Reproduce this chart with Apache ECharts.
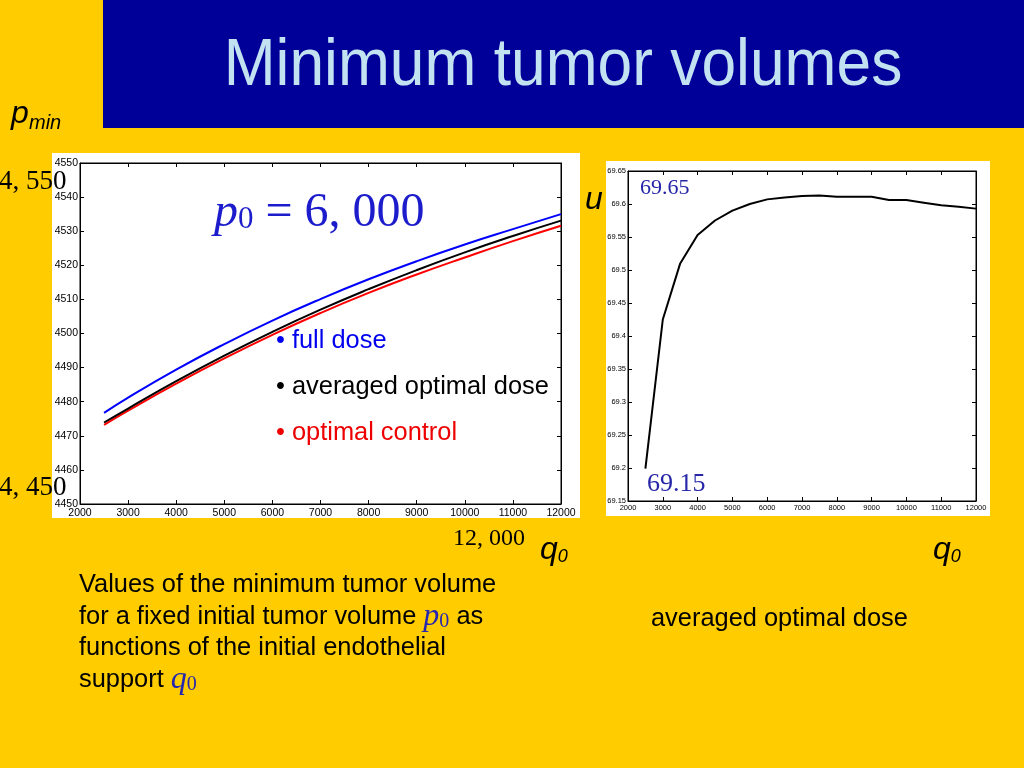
<!DOCTYPE html>
<html>
<head>
<meta charset="utf-8">
<script src="https://cdn.jsdelivr.net/npm/echarts@6/dist/echarts.min.js"></script>
<style>
html,body{margin:0;padding:0;background:#ffcc00;}
#c{width:1024px;height:768px;}
</style>
</head>
<body>
<div id="c"></div>
<script>
// Left chart: minimum tumor volume p_min vs q0 (p0 = 6,000)
const qLeft = [2500, 3000, 4000, 5000, 6000, 7000, 8000, 9000, 10000, 11000, 12000];
const fullDose = [4476.7, 4481.2, 4489.4, 4496.9, 4503.8, 4510.1, 4515.9, 4521.2, 4526.1, 4530.6, 4535.0];
const averagedDose = [4473.9, 4478.0, 4486.0, 4493.5, 4500.5, 4507.0, 4513.0, 4518.6, 4523.8, 4528.6, 4533.1];
const optimalControl = [4473.2, 4477.4, 4485.3, 4492.7, 4499.6, 4506.0, 4511.9, 4517.3, 4522.3, 4527.1, 4531.6];

// Right chart: averaged optimal dose u vs q0
const qRight = [2500, 3000, 3500, 4000, 4500, 5000, 5500, 6000, 6500, 7000, 7500, 8000, 8500, 9000, 9500, 10000, 10500, 11000, 11500, 12000];
const uValues = [69.199, 69.425, 69.51, 69.553, 69.575, 69.59, 69.6, 69.607, 69.61, 69.612, 69.613, 69.611, 69.611, 69.611, 69.606, 69.606, 69.602, 69.598, 69.596, 69.593];

const titleText = 'Minimum tumor volumes';
const legendLabels = ['• full dose', '• averaged optimal dose', '• optimal control'];
const descLines = ['Values of the minimum tumor volume', 'for a fixed initial tumor volume ', 'functions of the initial endothelial', 'support '];

const chart = echarts.init(document.getElementById('c'));
const sans = "'Liberation Sans', Arial, Helvetica, sans-serif";
const serif = "'Liberation Serif', 'DejaVu Serif', serif";

function pair(a, b) { return a.map((v, i) => [v, b[i]]); }
function plain(v) { return String(Math.round(v * 1000) / 1000); }

const gridL = {left: 80, top: 163, width: 481, height: 341};
const gridR = {left: 628, top: 171, width: 348, height: 330};

function xAx(gi, show, fs, margin) {
  return {type: 'value', gridIndex: gi, min: 2000, max: 12000, interval: 1000,
    position: show ? 'bottom' : 'top',
    axisLine: {show: true, lineStyle: {color: '#000', width: 1}},
    axisTick: {show: true, inside: true, length: 4, lineStyle: {color: '#000'}},
    axisLabel: {show: show, margin: margin, fontSize: fs, color: '#000', fontFamily: sans, formatter: plain},
    splitLine: {show: false}};
}
function yAx(gi, show, min, max, interval, fs) {
  return {type: 'value', gridIndex: gi, min: min, max: max, interval: interval,
    position: show ? 'left' : 'right',
    axisLine: {show: true, lineStyle: {color: '#000', width: 1}},
    axisTick: {show: true, inside: true, length: 4, lineStyle: {color: '#000'}},
    axisLabel: {show: show, margin: 2, fontSize: fs, color: '#000', fontFamily: sans, formatter: plain},
    splitLine: {show: false}};
}

const q0Rich = {
  a: {fontSize: 32, fontStyle: 'italic', fontFamily: sans, fill: '#000'},
  b: {fontSize: 18, fontStyle: 'italic', fontFamily: sans, fill: '#000', padding: [14,0,0,0]}};

const option = {
  backgroundColor: '#ffcc00',
  animation: false,
  grid: [
    {...gridL, show: true, borderColor: '#000', borderWidth: 1, backgroundColor: 'transparent'},
    {...gridR, show: true, borderColor: '#000', borderWidth: 1, backgroundColor: 'transparent'}
  ],
  xAxis: [xAx(0, true, 10.5, 4), xAx(0, false, 10.5, 4), xAx(1, true, 7.5, 3), xAx(1, false, 7.5, 3)],
  yAxis: [yAx(0, true, 4450, 4550, 10, 10.5), yAx(0, false, 4450, 4550, 10, 10.5),
          yAx(1, true, 69.15, 69.65, 0.05, 7.5), yAx(1, false, 69.15, 69.65, 0.05, 7.5)],
  series: [
    {type: 'line', xAxisIndex: 0, yAxisIndex: 0, data: pair(qLeft, fullDose), smooth: true, showSymbol: false, lineStyle: {color: '#0000ff', width: 2}},
    {type: 'line', xAxisIndex: 0, yAxisIndex: 0, data: pair(qLeft, optimalControl), smooth: true, showSymbol: false, lineStyle: {color: '#ff0000', width: 2}},
    {type: 'line', xAxisIndex: 0, yAxisIndex: 0, data: pair(qLeft, averagedDose), smooth: true, showSymbol: false, lineStyle: {color: '#000000', width: 2}},
    {type: 'line', xAxisIndex: 2, yAxisIndex: 2, data: pair(qRight, uValues), smooth: false, showSymbol: false, lineStyle: {color: '#000000', width: 2}}
  ],
  graphic: {elements: [
    {type: 'rect', z: -1, shape: {x: 52, y: 153, width: 528, height: 365}, style: {fill: '#ffffff'}},
    {type: 'rect', z: -1, shape: {x: 606, y: 161, width: 384, height: 355}, style: {fill: '#ffffff'}},
    {type: 'rect', z: -1, shape: {x: 103, y: 0, width: 921, height: 128}, style: {fill: '#000099'}},
    {type: 'text', x: 563, y: 67, scaleX: 0.93, originX: 0, originY: 0, style: {text: titleText, fill: '#c2e2f2', fontSize: 67, fontFamily: sans, align: 'center', verticalAlign: 'middle'}},
    // p_min
    {type: 'text', x: 11, y: 114, style: {text: 'p', fill: '#000', fontSize: 32, fontStyle: 'italic', fontFamily: sans, verticalAlign: 'middle'}},
    {type: 'text', x: 29, y: 123, style: {text: 'min', fill: '#000', fontSize: 20, fontStyle: 'italic', fontFamily: sans, verticalAlign: 'middle'}},
    {type: 'text', x: -1, y: 182, style: {text: '4, 550', fill: '#000', fontSize: 27, fontFamily: serif, verticalAlign: 'middle'}},
    {type: 'text', x: -1, y: 488, style: {text: '4, 450', fill: '#000', fontSize: 27, fontFamily: serif, verticalAlign: 'middle'}},
    {type: 'text', x: 453, y: 539, style: {text: '12, 000', fill: '#000', fontSize: 24, fontFamily: serif, verticalAlign: 'middle'}},
    // q0 labels
    {type: 'text', x: 540, y: 550, style: {text: '{a|q}{b|0}', verticalAlign: 'middle', rich: q0Rich}},
    {type: 'text', x: 933, y: 550, style: {text: '{a|q}{b|0}', verticalAlign: 'middle', rich: q0Rich}},
    {type: 'text', x: 585, y: 200, style: {text: 'u', fill: '#000', fontSize: 32, fontStyle: 'italic', fontFamily: sans, verticalAlign: 'middle'}},
    {type: 'text', x: 640, y: 188, style: {text: '69.65', fill: '#2626a8', fontSize: 22, fontFamily: serif, verticalAlign: 'middle'}},
    {type: 'text', x: 647, y: 484, style: {text: '69.15', fill: '#2626a8', fontSize: 26, fontFamily: serif, verticalAlign: 'middle'}},
    // p0 = 6,000
    {type: 'text', x: 214, y: 213, style: {text: '{a|p}{b|0}{c| = 6, 000}', verticalAlign: 'middle', rich: {
      a: {fontSize: 48, fontStyle: 'italic', fontFamily: serif, fill: '#1c1ccc'},
      b: {fontSize: 31, fontFamily: serif, fill: '#1c1ccc', padding: [14,0,0,0]},
      c: {fontSize: 48, fontFamily: serif, fill: '#1c1ccc'}}}},
    {type: 'text', x: 276, y: 341, style: {text: legendLabels[0], fill: '#0000ee', fontSize: 25.4, fontFamily: sans, verticalAlign: 'middle'}},
    {type: 'text', x: 276, y: 387, style: {text: legendLabels[1], fill: '#000', fontSize: 25.4, fontFamily: sans, verticalAlign: 'middle'}},
    {type: 'text', x: 276, y: 433, style: {text: legendLabels[2], fill: '#ee0000', fontSize: 25.4, fontFamily: sans, verticalAlign: 'middle'}},
    // description
    {type: 'text', x: 79, y: 585, style: {text: descLines[0], fill: '#000', fontSize: 25.4, fontFamily: sans, verticalAlign: 'middle'}},
    {type: 'text', x: 79, y: 617, style: {text: '{t|' + descLines[1] + '}{m|p}{s|0}{t| as}', verticalAlign: 'middle', rich: {
      t: {fontSize: 25.4, fontFamily: sans, fill: '#000'},
      m: {fontSize: 32, fontStyle: 'italic', fontFamily: serif, fill: '#2626b0'},
      s: {fontSize: 20, fontFamily: serif, fill: '#2626b0', padding: [10,0,0,0]}}}},
    {type: 'text', x: 79, y: 648, style: {text: descLines[2], fill: '#000', fontSize: 25.4, fontFamily: sans, verticalAlign: 'middle'}},
    {type: 'text', x: 79, y: 680, style: {text: '{t|' + descLines[3] + '}{m|q}{s|0}', verticalAlign: 'middle', rich: {
      t: {fontSize: 25.4, fontFamily: sans, fill: '#000'},
      m: {fontSize: 32, fontStyle: 'italic', fontFamily: serif, fill: '#2626b0'},
      s: {fontSize: 20, fontFamily: serif, fill: '#2626b0', padding: [10,0,0,0]}}}},
    {type: 'text', x: 651, y: 619, style: {text: 'averaged optimal dose', fill: '#000', fontSize: 25.4, fontFamily: sans, verticalAlign: 'middle'}}
  ]}
};
chart.setOption(option);
</script>
</body>
</html>
